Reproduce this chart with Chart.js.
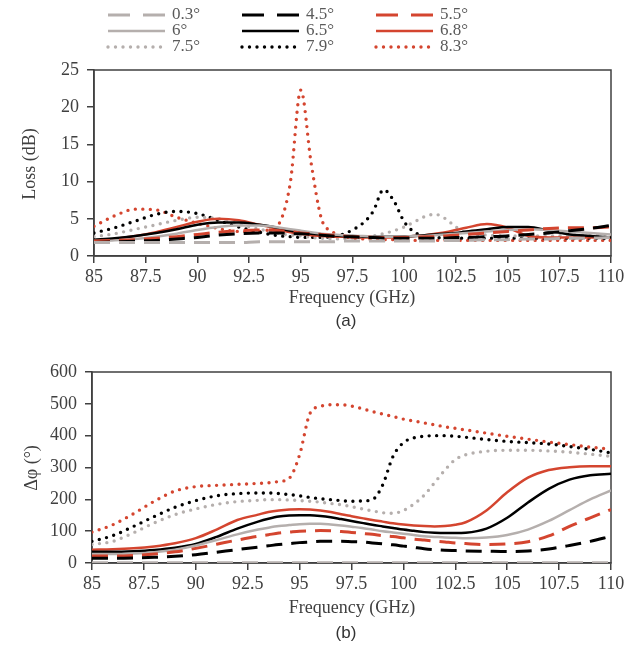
<!DOCTYPE html>
<html>
<head>
<meta charset="utf-8">
<script src="https://cdn.jsdelivr.net/npm/chart.js@4.4.0/dist/chart.umd.min.js"></script>
<style>
  body { margin: 0; background: #fff; }
  #wrap { position: relative; width: 629px; height: 659px; overflow: hidden;
          font-family: "Liberation Serif", "Times New Roman", serif; color: #404040; }
  canvas { position: absolute; left: 0; }
  .txt { position: absolute; white-space: nowrap; transform: translate(-50%, -50%); font-size: 18px; }
  .rot { transform: translate(-50%, -50%) rotate(-90deg); }
  .cap { font-family: "Liberation Sans", Arial, sans-serif; font-size: 17px; color: #333; }
</style>
</head>
<body>
<div id="wrap">
  <canvas id="graficaPerdida" width="629" height="300" style="top:0"></canvas>
  <canvas id="graficaFase" width="629" height="270" style="top:330px"></canvas>

  <div class="txt rot" style="left:29px; top:164px">Loss (dB)</div>
  <div class="txt" style="left:352px; top:297px">Frequency (GHz)</div>
  <div class="txt cap" style="left:346px; top:321px">(a)</div>

  <div class="txt rot" style="left:31px; top:468px">Δφ (°)</div>
  <div class="txt" style="left:352px; top:607px">Frequency (GHz)</div>
  <div class="txt cap" style="left:346px; top:633px">(b)</div>
</div>

<script>
// datos
const freq = [85, 86, 87, 88, 89, 90, 91, 92, 93, 93.5, 94, 94.5, 95, 95.5, 96, 96.5, 97, 97.5, 98, 98.5,
  99, 99.5, 100, 100.5, 101, 101.5, 102, 102.5, 103, 104, 105, 106, 107, 108, 109, 110]
const freqTicks = [85, 87.5, 90, 92.5, 95, 97.5, 100, 102.5, 105, 107.5, 110]
const lossTicks = [0, 5, 10, 15, 20, 25]
const phaseTicks = [0, 100, 200, 300, 400, 500, 600]
const angulos = ['0.3°', '4.5°', '5.5°', '6°', '6.5°', '6.8°', '7.5°', '7.9°', '8.3°']

// (a) perdida en dB
const loss_03 = [1.8, 1.8, 1.8, 1.8, 1.8, 1.8, 1.8, 1.8, 1.9, 1.9, 1.9, 1.9, 1.9, 1.9, 1.9, 1.9, 2.0, 2.0,
  2.0, 2.0, 2.0, 2.0, 2.0, 2.0, 2.0, 2.0, 2.1, 2.1, 2.1, 2.2, 2.2, 2.3, 2.3, 2.4, 2.4, 2.5]
const loss_45 = [1.8, 1.9, 2.0, 2.1, 2.3, 2.5, 2.8, 3.0, 3.1, 3.1, 3.1, 3.0, 3.0, 2.9, 2.8, 2.7, 2.6, 2.6,
  2.5, 2.5, 2.4, 2.4, 2.4, 2.4, 2.4, 2.4, 2.4, 2.5, 2.5, 2.6, 2.7, 2.9, 3.1, 3.4, 3.7, 4.1]
const loss_55 = [2.0, 2.1, 2.2, 2.4, 2.6, 2.9, 3.2, 3.4, 3.5, 3.5, 3.4, 3.3, 3.1, 3.0, 2.9, 2.8, 2.7, 2.6,
  2.6, 2.5, 2.5, 2.5, 2.5, 2.5, 2.6, 2.6, 2.7, 2.8, 2.9, 3.1, 3.3, 3.5, 3.7, 3.8, 3.8, 3.9]
const loss_6 = [2.0, 2.1, 2.3, 2.6, 3.0, 3.5, 3.9, 4.1, 4.1, 4.0, 3.8, 3.6, 3.4, 3.2, 3.0, 2.9, 2.8, 2.7,
  2.7, 2.6, 2.6, 2.6, 2.6, 2.7, 2.7, 2.8, 2.9, 3.0, 3.1, 3.3, 3.5, 3.6, 3.5, 3.3, 3.1, 2.9]
const loss_65 = [2.2, 2.4, 2.7, 3.1, 3.6, 4.2, 4.5, 4.5, 4.2, 4.0, 3.7, 3.4, 3.2, 3.0, 2.9, 2.8, 2.7, 2.7,
  2.6, 2.6, 2.6, 2.6, 2.6, 2.7, 2.8, 2.9, 3.0, 3.1, 3.3, 3.6, 3.9, 3.9, 3.4, 2.9, 2.7, 2.5]
const loss_68 = [2.0, 2.3, 2.7, 3.2, 3.9, 4.6, 5.0, 4.8, 4.2, 3.9, 3.5, 3.2, 3.0, 2.8, 2.7, 2.6, 2.6, 2.5,
  2.5, 2.5, 2.5, 2.5, 2.6, 2.7, 2.8, 3.0, 3.2, 3.5, 3.8, 4.3, 3.8, 2.7, 2.5, 2.5, 2.5, 2.5]
const loss_75 = [2.6, 3.0, 3.6, 4.2, 4.8, 5.2, 5.0, 4.3, 3.6, 3.3, 3.0, 2.8, 2.7, 2.5, 2.4, 2.3, 2.3, 2.4,
  2.5, 2.7, 3.0, 3.4, 3.9, 4.6, 5.3, 5.6, 5.0, 3.9, 3.1, 2.8, 2.7, 2.7, 2.7, 2.8, 2.8, 2.9]
const loss_79 = [3.1, 3.8, 4.7, 5.6, 6.0, 5.7, 4.8, 3.9, 3.2, 2.9, 2.7, 2.6, 2.5, 2.5, 2.5, 2.6, 2.9, 3.5,
  4.4, 6.0, 8.9, 7.4, 4.6, 3.2, 2.7, 2.5, 2.4, 2.4, 2.4, 2.4, 2.4, 2.4, 2.4, 2.4, 2.4, 2.3]
const loss_83 = [4.0, 5.4, 6.3, 6.2, 5.2, 4.4, 3.7, 3.3, 3.3, 3.6, 4.6, 10.0, 22.3, 12.5, 5.0, 3.3, 2.7, 2.4,
  2.3, 2.2, 2.2, 2.2, 2.1, 2.1, 2.1, 2.1, 2.1, 2.1, 2.1, 2.1, 2.1, 2.1, 2.1, 2.1, 2.1, 2.1]

// (b) diferencia de fase en grados
const ph_03 = [1, 1, 1, 1, 1, 1, 1, 1, 1, 1, 1, 1, 1, 1, 1, 1, 1, 1,
  1, 1, 1, 1, 1, 1, 1, 1, 1, 1, 1, 1, 1, 1, 1, 1, 1, 1]
const ph_45 = [15, 15, 16, 18, 21, 26, 34, 42, 50, 54, 58, 61, 64, 66, 68, 68, 68, 67,
  66, 63, 60, 57, 53, 49, 45, 42, 40, 39, 38, 37, 36, 38, 44, 55, 68, 84]
const ph_55 = [22, 22, 24, 28, 35, 46, 59, 72, 84, 89, 94, 97, 100, 101, 102, 101, 99, 96,
  93, 90, 86, 83, 79, 75, 72, 69, 66, 63, 61, 58, 60, 67, 85, 115, 142, 168]
const ph_6 = [28, 28, 30, 34, 42, 55, 72, 90, 105, 111, 116, 119, 122, 123, 123, 121, 118, 114,
  110, 105, 100, 96, 92, 88, 84, 82, 80, 79, 78, 80, 88, 105, 132, 166, 200, 228]
const ph_65 = [35, 35, 37, 41, 48, 60, 82, 108, 130, 139, 146, 149, 150, 150, 148, 144, 138, 132,
  126, 120, 115, 110, 105, 101, 97, 95, 94, 94, 95, 108, 142, 190, 233, 262, 276, 280]
const ph_68 = [42, 43, 46, 52, 62, 78, 105, 135, 152, 160, 165, 168, 169, 168, 165, 160, 153, 147,
  141, 135, 130, 125, 121, 118, 116, 115, 116, 120, 128, 165, 222, 268, 292, 301, 304, 304]
const ph_75 = [58, 68, 95, 126, 152, 170, 184, 193, 197, 199, 199, 198, 196, 194, 191, 187, 183, 177,
  170, 164, 158, 156, 165, 185, 213, 252, 292, 325, 340, 351, 354, 354, 352, 348, 342, 335]
const ph_79 = [68, 86, 115, 146, 175, 196, 211, 218, 220, 220, 218, 215, 211, 206, 202, 199, 196, 194,
  195, 199, 245, 335, 378, 393, 398, 400, 400, 398, 395, 388, 382, 378, 374, 366, 357, 346]
const ph_83 = [97, 120, 155, 194, 226, 240, 244, 247, 250, 252, 256, 266, 340, 470, 492, 497, 497, 493,
  485, 476, 468, 460, 452, 446, 440, 434, 428, 423, 418, 408, 398, 389, 380, 372, 364, 357]

const seriesPerdida = [loss_03, loss_45, loss_55, loss_6, loss_65, loss_68, loss_75, loss_79, loss_83]
const seriesFase = [ph_03, ph_45, ph_55, ph_6, ph_65, ph_68, ph_75, ph_79, ph_83]

// estilos
const GRIS = '#b5afad', NEGRO = '#000000', ROJO = '#d4452f'
const colores = [GRIS, NEGRO, ROJO]
const TEXTO = '#404040'
const fuente = { family: '"Liberation Serif", "Times New Roman", serif', size: 18 }

function estilo(i) {
    const tipo = Math.floor(i / 3) // 0 guiones, 1 solida, 2 puntos
    const base = { borderColor: colores[i % 3], pointRadius: 0, fill: false,
        cubicInterpolationMode: 'monotone' }
    if (tipo === 0) return { ...base, borderWidth: 3, borderDash: [16, 9], borderCapStyle: 'butt' }
    if (tipo === 1) return { ...base, borderWidth: 2.5, borderDash: [], borderCapStyle: 'butt' }
    return { ...base, borderWidth: 3.4, borderDash: [0, 7.5], borderCapStyle: 'round' }
}

const armar = series => series.map((vals, i) => ({
    label: angulos[i],
    data: freq.map((f, k) => ({ x: f, y: vals[k] })),
    ...estilo(i)
}))

// marco completo alrededor del area
const marco = {
    id: 'marco',
    beforeDatasetsDraw(chart) {
        const { left, top, right, bottom } = chart.chartArea
        const ctx = chart.ctx
        ctx.save()
        ctx.strokeStyle = TEXTO
        ctx.lineWidth = 1.5
        ctx.strokeRect(left, top, right - left, bottom - top)
        ctx.restore()
    }
}

// leyenda en 3 columnas arriba de la grafica (a)
const leyenda = {
    id: 'leyenda',
    afterDraw(chart) {
        const ctx = chart.ctx
        const colX = [108, 242, 376], filaY = [15, 31, 47]
        chart.data.datasets.forEach((ds, i) => {
            const x0 = colX[i % 3], y = filaY[Math.floor(i / 3)]
            // en la leyenda los guiones se ven mas largos (dos por muestra)
            const dash = ds.borderDash.length && ds.borderDash[0] > 0 ? [22, 13] : ds.borderDash
            ctx.save()
            ctx.strokeStyle = ds.borderColor
            ctx.lineWidth = ds.borderWidth
            ctx.setLineDash(dash)
            ctx.lineCap = ds.borderCapStyle
            ctx.beginPath()
            ctx.moveTo(x0, y)
            ctx.lineTo(x0 + 57, y)
            ctx.stroke()
            ctx.fillStyle = '#5a5a5a'
            ctx.font = '17px "Liberation Serif", "Times New Roman", serif'
            ctx.textBaseline = 'middle'
            ctx.fillText(ds.label, x0 + 64, y)
            ctx.restore()
        })
    }
}

function opciones(yTicks, yMax, anchoY, altoX, padTop) {
    return {
        responsive: false,
        animation: false,
        layout: { padding: { top: padTop, right: 18, left: 0, bottom: 0 } },
        plugins: { legend: { display: false }, tooltip: { enabled: false } },
        scales: {
            x: {
                type: 'linear', min: 85, max: 110,
                afterBuildTicks: s => { s.ticks = freqTicks.map(v => ({ value: v })) },
                afterFit: s => { s.height = altoX },
                grid: { drawOnChartArea: false, tickLength: 7, color: TEXTO, lineWidth: 1.5 },
                border: { color: TEXTO, width: 1.5 },
                ticks: { font: fuente, color: TEXTO, padding: 3, maxRotation: 0, autoSkip: false,
                    callback: v => String(v) }
            },
            y: {
                min: 0, max: yMax,
                afterBuildTicks: s => { s.ticks = yTicks.map(v => ({ value: v })) },
                afterFit: s => { s.width = anchoY },
                grid: { drawOnChartArea: false, tickLength: 7, color: TEXTO, lineWidth: 1.5 },
                border: { color: TEXTO, width: 1.5 },
                ticks: { font: fuente, color: TEXTO, padding: 8, callback: v => String(v) }
            }
        }
    }
}

new Chart(document.getElementById('graficaPerdida'), {
    type: 'line',
    data: { datasets: armar(seriesPerdida) },
    options: opciones(lossTicks, 25, 94, 44, 70),
    plugins: [marco, leyenda]
})

new Chart(document.getElementById('graficaFase'), {
    type: 'line',
    data: { datasets: armar(seriesFase) },
    options: opciones(phaseTicks, 600, 92, 37, 42),
    plugins: [marco]
})
</script>
</body>
</html>
